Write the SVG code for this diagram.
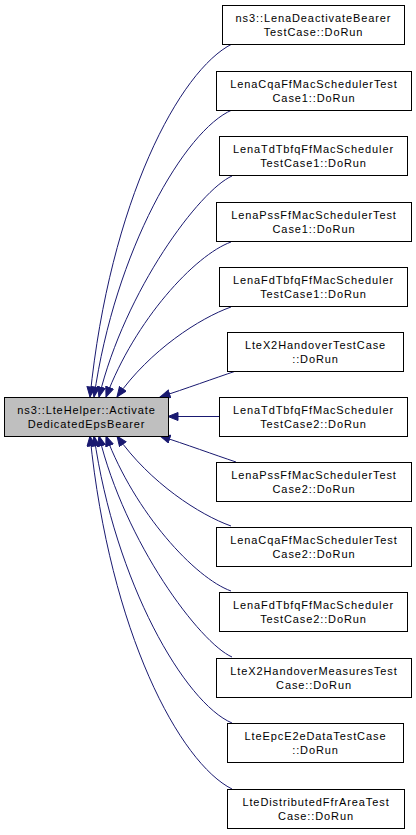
<svg xmlns="http://www.w3.org/2000/svg" width="416" height="835" viewBox="0 0 416 835">
<defs>
<style>
.n rect{fill:#ffffff;stroke:#000000;stroke-width:1}
.m rect{fill:#bfbfbf;stroke:#000000;stroke-width:1}
text{font-family:"Liberation Sans",Arial,Helvetica,sans-serif;font-size:11px;letter-spacing:0.9px;text-anchor:middle;fill:#000000}
.e path{fill:none;stroke:#191970;stroke-width:1}
</style>
<marker id="ah" markerUnits="userSpaceOnUse" markerWidth="12" markerHeight="10" refX="10.5" refY="4.5" orient="auto">
<path d="M0.5,0.5 L10.5,4.5 L0.5,8.5 z" fill="#191970" stroke="#191970" stroke-width="1"/>
</marker>
</defs>
<rect width="416" height="835" fill="#ffffff"/>
<g class="e">
<path marker-end="url(#ah)" d="M232,44 C180,70 110,200 90,397"/>
<path marker-end="url(#ah)" d="M232,110 C185,130 115,250 94,397"/>
<path marker-end="url(#ah)" d="M232,176 C200,190 125,290 99,397"/>
<path marker-end="url(#ah)" d="M231,242 C195,255 135,320 106,397"/>
<path marker-end="url(#ah)" d="M231,307 C200,318 150,350 117,397"/>
<path marker-end="url(#ah)" d="M236,371 C215,378 185,389 160,397"/>
<path marker-end="url(#ah)" d="M219,416.5 L168,416.5"/>
<path marker-end="url(#ah)" d="M236,462 C215,455 185,444 160,436"/>
<path marker-end="url(#ah)" d="M231,526 C200,515 150,483 117,436"/>
<path marker-end="url(#ah)" d="M231,591 C195,578 135,513 106,436"/>
<path marker-end="url(#ah)" d="M232,657 C200,643 125,543 99,436"/>
<path marker-end="url(#ah)" d="M232,723 C185,703 115,583 94,436"/>
<path marker-end="url(#ah)" d="M232,789 C180,763 110,633 90,436"/>
</g>
<g id="main" class="m"><rect x="4.5" y="397.5" width="164" height="39"/><text x="86.5" y="414">ns3::LteHelper::Activate</text><text x="86.5" y="428">DedicatedEpsBearer</text></g>
<g id="n1" class="n"><rect x="222.5" y="5.5" width="182" height="39"/><text x="313.5" y="22">ns3::LenaDeactivateBearer</text><text x="313.5" y="36">TestCase::DoRun</text></g>
<g id="n2" class="n"><rect x="216.5" y="71.5" width="195" height="39"/><text x="314" y="88">LenaCqaFfMacSchedulerTest</text><text x="314" y="102">Case1::DoRun</text></g>
<g id="n3" class="n"><rect x="219.5" y="136.5" width="188" height="39"/><text x="313.5" y="153">LenaTdTbfqFfMacScheduler</text><text x="313.5" y="167">TestCase1::DoRun</text></g>
<g id="n4" class="n"><rect x="216.5" y="202.5" width="195" height="39"/><text x="314" y="219">LenaPssFfMacSchedulerTest</text><text x="314" y="233">Case1::DoRun</text></g>
<g id="n5" class="n"><rect x="219.5" y="267.5" width="188" height="39"/><text x="313.5" y="284">LenaFdTbfqFfMacScheduler</text><text x="313.5" y="298">TestCase1::DoRun</text></g>
<g id="n6" class="n"><rect x="227.5" y="332.5" width="176" height="39"/><text x="315.5" y="349">LteX2HandoverTestCase</text><text x="315.5" y="363">::DoRun</text></g>
<g id="n7" class="n"><rect x="219.5" y="397.5" width="188" height="39"/><text x="313.5" y="414">LenaTdTbfqFfMacScheduler</text><text x="313.5" y="428">TestCase2::DoRun</text></g>
<g id="n8" class="n"><rect x="216.5" y="462.5" width="195" height="39"/><text x="314" y="479">LenaPssFfMacSchedulerTest</text><text x="314" y="493">Case2::DoRun</text></g>
<g id="n9" class="n"><rect x="216.5" y="527.5" width="195" height="39"/><text x="314" y="544">LenaCqaFfMacSchedulerTest</text><text x="314" y="558">Case2::DoRun</text></g>
<g id="n10" class="n"><rect x="219.5" y="592.5" width="188" height="39"/><text x="313.5" y="609">LenaFdTbfqFfMacScheduler</text><text x="313.5" y="623">TestCase2::DoRun</text></g>
<g id="n11" class="n"><rect x="216.5" y="658.5" width="195" height="39"/><text x="314" y="675">LteX2HandoverMeasuresTest</text><text x="314" y="689">Case::DoRun</text></g>
<g id="n12" class="n"><rect x="227.5" y="723.5" width="176" height="39"/><text x="315.5" y="740">LteEpcE2eDataTestCase</text><text x="315.5" y="754">::DoRun</text></g>
<g id="n13" class="n"><rect x="227.5" y="789.5" width="177" height="39"/><text x="316" y="806">LteDistributedFfrAreaTest</text><text x="316" y="820">Case::DoRun</text></g>
</svg>
